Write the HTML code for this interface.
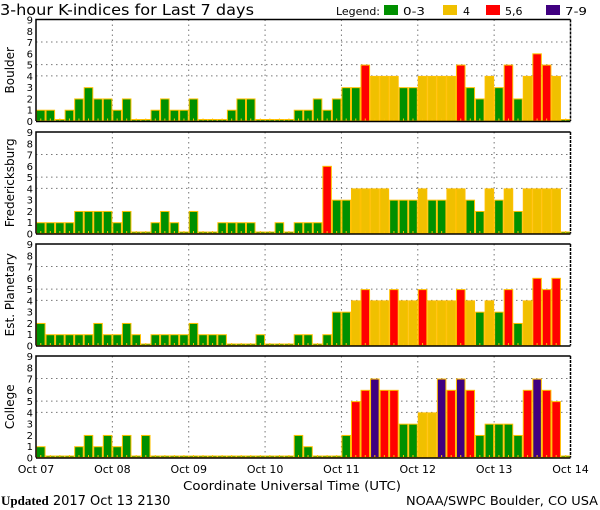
<!DOCTYPE html>
<html><head><meta charset="utf-8"><style>
html,body{margin:0;padding:0;background:#fff;}
svg{display:block;font-family:"DejaVu Sans","Liberation Sans",sans-serif;}
</style></head><body>
<svg id="chart" width="600" height="510" viewBox="0 0 600 510" xmlns="http://www.w3.org/2000/svg">
<text x="0" y="15" font-size="15" fill="#000" textLength="254" lengthAdjust="spacingAndGlyphs">3-hour K-indices for Last 7 days</text>
<g font-size="11">
<text x="336" y="15" textLength="44" lengthAdjust="spacingAndGlyphs">Legend:</text>
<rect x="384" y="5" width="14" height="10" fill="#009000"/>
<text x="403" y="15" textLength="22" lengthAdjust="spacingAndGlyphs">0-3</text>
<rect x="443" y="5" width="14" height="10" fill="#f0c000"/>
<text x="463" y="15">4</text>
<rect x="486" y="5" width="14" height="10" fill="#ff0000"/>
<text x="505" y="15">5,6</text>
<rect x="546" y="5" width="14" height="10" fill="#400080"/>
<text x="565" y="15" textLength="22" lengthAdjust="spacingAndGlyphs">7-9</text>
</g>
<g id="panels"></g>
<text x="292" y="490" font-size="12" text-anchor="middle" textLength="218" lengthAdjust="spacingAndGlyphs">Coordinate Universal Time (UTC)</text>
<text x="1" y="505" font-size="13"><tspan font-family="Liberation Serif, serif" font-weight="bold">Updated</tspan> 2017 Oct 13 2130</text>
<text x="598" y="505" font-size="12" text-anchor="end" textLength="192" lengthAdjust="spacingAndGlyphs">NOAA/SWPC Boulder, CO USA</text>
</svg>
<script>
const stations = ["Boulder","Fredericksburg","Est. Planetary","College"];
const dayLabels = ["Oct 07","Oct 08","Oct 09","Oct 10","Oct 11","Oct 12","Oct 13","Oct 14"];
const yTicks = [0,1,2,3,4,5,6,7,8,9];
const gridLevels = [4,5,7];
const boulder = [1,1,0,1,2,3,2,2, 1,2,0,0,1,2,1,1, 2,0,0,0,1,2,2,0, 0,0,0,1,1,2,1,2, 3,3,5,4,4,4,3,3, 4,4,4,4,5,3,2,4, 3,5,2,4,6,5,4,0];
const fredericksburg = [1,1,1,1,2,2,2,2, 1,2,0,0,1,2,1,0, 2,0,0,1,1,1,1,0, 0,1,0,1,1,1,6,3, 3,4,4,4,4,3,3,3, 4,3,3,4,4,3,2,4, 3,4,2,4,4,4,4,0];
const planetary = [2,1,1,1,1,1,2,1, 1,2,1,0,1,1,1,1, 2,1,1,1,0,0,0,1, 0,0,0,1,1,0,1,3, 3,4,5,4,4,5,4,4, 5,4,4,4,5,4,3,4, 3,5,2,4,6,5,6,null];
const college = [1,0,0,0,1,2,1,2, 1,2,0,2,0,0,0,0, 0,0,0,0,0,0,0,0, 0,0,0,2,1,0,0,0, 2,5,6,7,6,6,3,3, 4,4,7,6,7,6,2,3, 3,3,2,6,7,6,5,0];
const series = [boulder, fredericksburg, planetary, college];

const NS="http://www.w3.org/2000/svg";
const X0=36, X1=570.5, nBars=56;
const panelTops=[19.5,132,244,356], PH=101.5;
function xScale(i){return X0+(X1-X0)*i/nBars;}
function yScale(v,top){return top+PH-v*PH/9;}
function color(v){return v<=3?"#009000":v===4?"#f0c000":v<=6?"#ff0000":"#400080";}
function mk(tag,attrs,parent){const e=document.createElementNS(NS,tag);for(const k in attrs)e.setAttribute(k,attrs[k]);parent.appendChild(e);return e;}
const root=document.getElementById("panels");
series.forEach((vals,p)=>{
  const top=panelTops[p], bot=top+PH;
  const g=mk("g",{},root);
  
  
  gridLevels.forEach(l=>{const ln=mk("line",{x1:X0,x2:X1,y1:yScale(l,top),y2:yScale(l,top),stroke:"#777","stroke-dasharray":"1.5,3.5"},g);
    
    });
  for(let d=1;d<7;d++){const x=xScale(d*8);const ln=mk("line",{x1:x,x2:x,y1:top,y2:bot,stroke:"#777","stroke-dasharray":"1.5,3.5"},g);
    
    }
  vals.forEach((v,i)=>{
    const x=xScale(i), w=xScale(i+1)-x;
    if(v===null||v===undefined){return;}
    const h=Math.max(v*PH/9,2);
    const r=mk("rect",{x:x+0.5,y:bot-h+0.5,width:w-1,height:h-0.5,fill:color(v),stroke:"#ffc000","stroke-width":1},g);
    
    
    const t=mk("line",{x1:x+w/2,x2:x+w/2,y1:bot-2.5,y2:bot,stroke:"#ffc000","stroke-width":1},g);
    
    
  });
  const f1=mk("path",{d:`M${X0},${bot} L${X0},${top} L${X1},${top}`,fill:"none",stroke:"#000","stroke-width":1.5},g);
  
  
  const f2=mk("line",{x1:X1,x2:X1,y1:top,y2:bot,stroke:"#000","stroke-width":1.5,"stroke-dasharray":"3,1"},g);
  
  
  const f3=mk("line",{x1:X0,x2:X1,y1:bot+0.5,y2:bot+0.5,stroke:"#000","stroke-width":1.5},g);
  
  
  yTicks.forEach(t=>{const tx=mk("text",{x:33,y:yScale(t,top)+4,"font-size":10,"text-anchor":"end"},g);tx.textContent=t;
    
    });
  const cy=top+PH/2;
  const lab=mk("text",{x:14,y:cy,"font-size":12,"text-anchor":"middle",transform:`rotate(-90 14 ${cy})`},g);
  lab.textContent=stations[p];
  
  
});
dayLabels.forEach((d,i)=>{const t=mk("text",{x:xScale(i*8),y:473,"font-size":11,"text-anchor":"middle"},root);t.textContent=d;
  
  });
</script>
</body></html>
